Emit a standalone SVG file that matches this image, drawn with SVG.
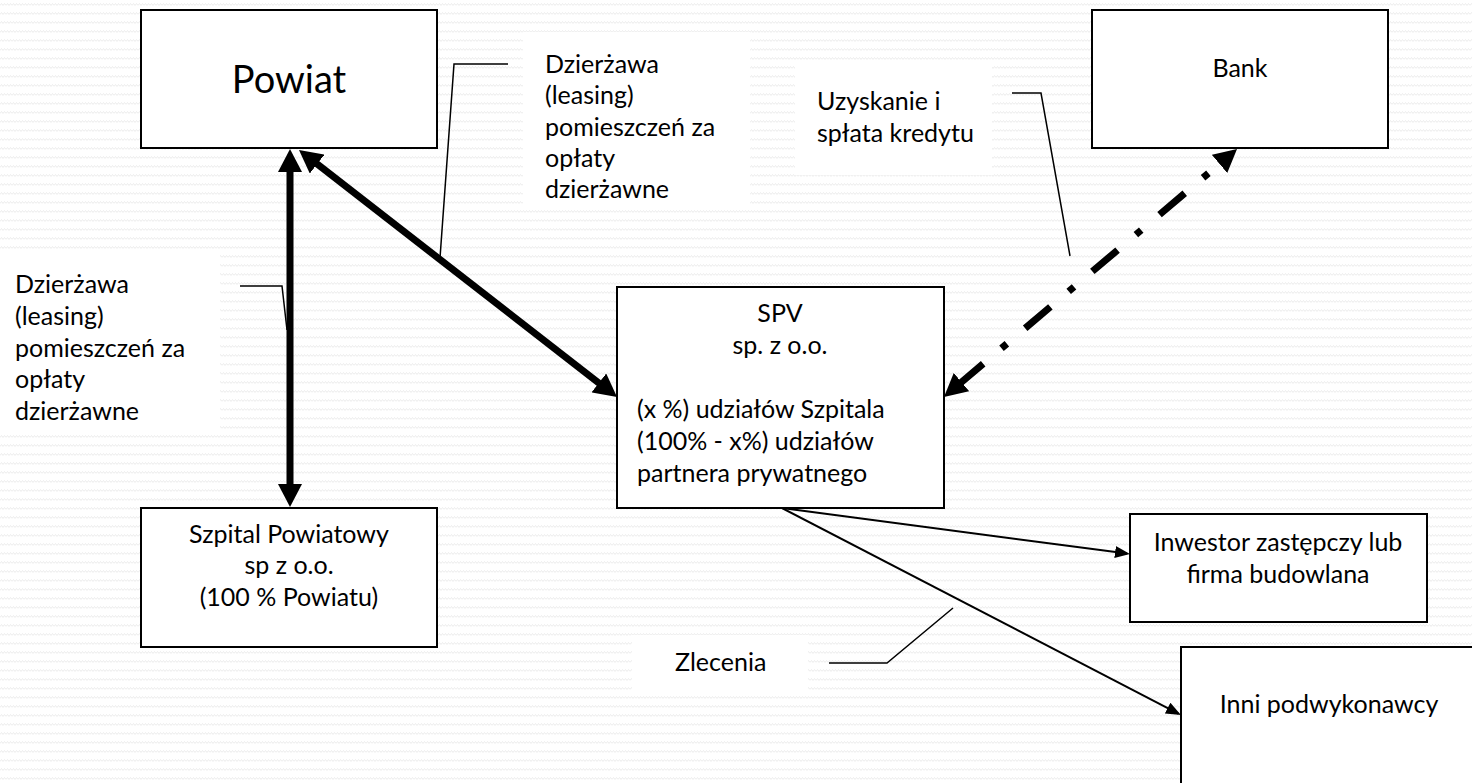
<svg xmlns="http://www.w3.org/2000/svg" width="1472" height="783" viewBox="0 0 1472 783">
<defs>
  <pattern id="zig" width="6" height="9" patternUnits="userSpaceOnUse">
    <path d="M0,5.5 L1.5,3.5 L3,5.5 L4.5,3.5 L6,5.5" fill="none" stroke="#ececec" stroke-width="1"/>
  </pattern>
  <marker id="thick" viewBox="0 0 23 24" markerWidth="23" markerHeight="24" markerUnits="userSpaceOnUse" refX="13" refY="12" orient="auto-start-reverse">
    <path d="M0,0 L23,12 L0,24 z" fill="#000"/>
  </marker>
  <marker id="thin" viewBox="0 0 15 12" markerWidth="15" markerHeight="12" markerUnits="userSpaceOnUse" refX="12" refY="6" orient="auto">
    <path d="M0,0 L15,6 L0,12 z" fill="#000"/>
  </marker>
</defs>
<style>
  .box { fill: #fff; stroke: #000; stroke-width: 2; }
  .lbl { fill: #fff; stroke: none; }
  text { font-family: Lato, "Liberation Sans", "DejaVu Sans", sans-serif; font-size: 25px; fill: #000; }
  .c { text-anchor: middle; }
  .leader { fill: none; stroke: #000; stroke-width: 1.5; }
  .thickline { fill: none; stroke: #000; stroke-width: 7; marker-start: url(#thick); marker-end: url(#thick); }
  .dashline { fill: none; stroke: #000; stroke-width: 7; stroke-dasharray: 33 24 7 24; stroke-dashoffset: 29.5; marker-start: url(#thick); marker-end: url(#thick); }
  .thinline { fill: none; stroke: #000; stroke-width: 2; marker-end: url(#thin); }
</style>
<rect x="0" y="0" width="1472" height="783" fill="#fff"/>
<rect x="0" y="0" width="1472" height="783" fill="url(#zig)"/>

<g id="label-dzierzawa-top">
  <rect class="lbl" x="523" y="32" width="227" height="175"/>
  <text x="545" y="73">Dzierżawa</text>
  <text x="545" y="104">(leasing)</text>
  <text x="545" y="136">pomieszczeń za</text>
  <text x="545" y="167">opłaty</text>
  <text x="545" y="198">dzierżawne</text>
</g>
<g id="label-dzierzawa-left">
  <rect class="lbl" x="0" y="255" width="220" height="175"/>
  <text x="15" y="293">Dzierżawa</text>
  <text x="15" y="325">(leasing)</text>
  <text x="15" y="357">pomieszczeń za</text>
  <text x="15" y="388">opłaty</text>
  <text x="15" y="420">dzierżawne</text>
</g>
<g id="label-kredyt">
  <rect class="lbl" x="795" y="65" width="197" height="110"/>
  <text x="817" y="110">Uzyskanie i</text>
  <text x="817" y="142">spłata kredytu</text>
</g>
<g id="label-zlecenia">
  <rect class="lbl" x="632" y="635" width="176" height="55"/>
  <text x="675" y="671">Zlecenia</text>
</g>

<g id="connectors">
  <path class="thickline" d="M290,159 L290,497"/>
  <path class="thickline" d="M306.9,156.1 L609.1,390.9"/>
  <path class="dashline" d="M1229.4,155.5 L951.6,390.5"/>
  <path class="thinline" d="M782,508 L1127,553.6"/>
  <path class="thinline" d="M782,508 L1178.3,713.6"/>
  <path class="leader" d="M508,64 H454 L440,258"/>
  <path class="leader" d="M240,286 H282 L287,330"/>
  <path class="leader" d="M1012,93 H1041 L1070,256"/>
  <path class="leader" d="M829,663 H887 L953,608"/>
</g>

<g id="powiat">
  <rect class="box" x="141" y="10" width="296" height="138"/>
  <text class="c" x="289" y="93" style="font-size:38px">Powiat</text>
</g>
<g id="bank">
  <rect class="box" x="1092" y="10" width="296" height="138"/>
  <text class="c" x="1240" y="77">Bank</text>
</g>
<g id="spv">
  <rect class="box" x="617" y="287" width="327" height="221"/>
  <text class="c" x="780" y="322">SPV</text>
  <text class="c" x="780" y="354">sp. z o.o.</text>
  <text x="637" y="418">(x %) udziałów Szpitala</text>
  <text x="637" y="450">(100% - x%) udziałów</text>
  <text x="637" y="482">partnera prywatnego</text>
</g>
<g id="szpital">
  <rect class="box" x="141" y="508" width="296" height="139"/>
  <text class="c" x="289" y="543">Szpital Powiatowy</text>
  <text class="c" x="289" y="574">sp z o.o.</text>
  <text class="c" x="289" y="606">(100 % Powiatu)</text>
</g>
<g id="inwestor">
  <rect class="box" x="1130" y="514" width="297" height="108"/>
  <text class="c" x="1278" y="551">Inwestor zastępczy lub</text>
  <text class="c" x="1278" y="583">firma budowlana</text>
</g>
<g id="inni">
  <rect class="box" x="1181" y="647" width="296" height="145"/>
  <text class="c" x="1329" y="713">Inni podwykonawcy</text>
</g>
</svg>
